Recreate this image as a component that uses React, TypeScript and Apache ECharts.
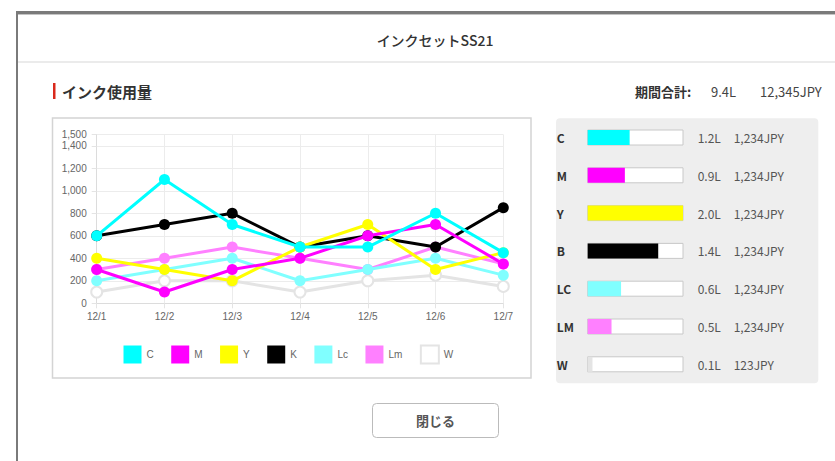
import React, { useEffect, useRef } from "react";
import * as echarts from "echarts";

const categories = ["12/1", "12/2", "12/3", "12/4", "12/5", "12/6", "12/7"];
const inkNames = ["C", "M", "Y", "K", "Lc", "Lm", "W"];
const inkColors = ["#00ffff", "#ff00ff", "#ffff00", "#000000", "#80ffff", "#ff80ff", "#ffffff"];
const cData = [600, 1100, 700, 500, 500, 800, 450];
const mData = [300, 100, 300, 400, 600, 700, 350];
const yData = [400, 300, 200, 500, 700, 300, 450];
const kData = [600, 700, 800, 500, 600, 500, 850];
const lcData = [200, 300, 400, 200, 300, 400, 250];
const lmData = [300, 400, 500, 400, 300, 500, 350];
const wData = [100, 200, 200, 100, 200, 250, 150];
const seriesValues = [cData, mData, yData, kData, lcData, lmData, wData];

const yMin = 0;
const yMax = 1500;
const yInterval = 200;

const rowLabels = ["C", "M", "Y", "B", "LC", "LM", "W"];
const rowVolumes = [1.2, 0.9, 2.0, 1.4, 0.6, 0.5, 0.1];
const rowPrices = [1234, 1234, 1234, 1234, 1234, 1234, 123];
const rowFillPercent = [44, 39, 100, 74, 35, 25, 5];
const rowColors = ["#00ffff", "#ff00ff", "#ffff00", "#000000", "#80ffff", "#ff80ff", "#e4e4e4"];

const totalVolume = 9.4;
const totalPrice = 12345;

const modalTitle = "インクセットSS21";
const sectionTitle = "インク使用量";
const totalLabel = "期間合計:";
const closeLabel = "閉じる";

const jp = "'Noto Sans CJK JP', 'Noto Sans', sans-serif";
const latin = "'Liberation Sans', Arial, sans-serif";

export default function App() {
  const ref = useRef<HTMLDivElement>(null);
  useEffect(() => {
    if (!ref.current) return;
    const chart = echarts.init(ref.current, null, { renderer: "svg" });
    const fmtPrice = (v: number) => v.toLocaleString("en-US") + "JPY";

    const lineSeries = inkNames.map((name, i) => {
      const isW = name === "W";
      return {
        name,
        type: "line",
        xAxisIndex: 0,
        yAxisIndex: 0,
        data: seriesValues[i],
        z: 20 - i,
        symbol: "circle",
        symbolSize: 11,
        showAllSymbol: true,
        lineStyle: { width: 3, color: isW ? "#e4e4e4" : inkColors[i] },
        itemStyle: isW
          ? { color: "#ffffff", borderColor: "#e4e4e4", borderWidth: 2 }
          : { color: inkColors[i], borderWidth: 0 },
      };
    });

    const option: any = {
      animation: false,
      backgroundColor: "#ffffff",
      graphic: [
        { type: "rect", shape: { x: 16, y: 11, width: 819, height: 3 }, style: { fill: "#7a7a7a" }, z: 0 },
        { type: "rect", shape: { x: 16, y: 14, width: 819, height: 1 }, style: { fill: "#c4c4c4" }, z: 0 },
        { type: "rect", shape: { x: 16, y: 11, width: 2, height: 450 }, style: { fill: "#7a7a7a" }, z: 0 },
        { type: "rect", shape: { x: 18, y: 61, width: 817, height: 2 }, style: { fill: "#ebebeb" }, z: 0 },
        {
          type: "text", x: 435, y: 40, z: 1,
          style: { text: modalTitle, font: `500 14px ${jp}`, fill: "#333", textAlign: "center", textVerticalAlign: "middle" },
        },
        { type: "rect", shape: { x: 53, y: 83, width: 2.5, height: 16 }, style: { fill: "#d9291c" }, z: 1 },
        {
          type: "text", x: 62, y: 91, z: 1,
          style: { text: sectionTitle, font: `bold 15px ${jp}`, fill: "#333", textAlign: "left", textVerticalAlign: "middle" },
        },
        {
          type: "text", x: 635, y: 91, z: 1,
          style: { text: totalLabel, font: `bold 13px ${jp}`, fill: "#333", textAlign: "left", textVerticalAlign: "middle" },
        },
        {
          type: "text", x: 711, y: 91, z: 1,
          style: { text: totalVolume.toFixed(1) + "L", font: `13px ${jp}`, fill: "#444", textAlign: "left", textVerticalAlign: "middle" },
        },
        {
          type: "text", x: 760, y: 91, z: 1,
          style: { text: fmtPrice(totalPrice), font: `13px ${jp}`, fill: "#444", textAlign: "left", textVerticalAlign: "middle" },
        },
        {
          type: "rect", shape: { x: 52.5, y: 118, width: 478.5, height: 260 }, z: 0,
          style: { fill: "#ffffff", stroke: "#d4d4d4", lineWidth: 1.5 },
        },
        {
          type: "rect", shape: { x: 556, y: 118.3, width: 262.3, height: 265, r: 4 }, z: 0,
          style: { fill: "#eeeeee" },
        },
        {
          type: "rect", shape: { x: 372.5, y: 403.5, width: 126, height: 34, r: 4 }, z: 0,
          style: { fill: "#ffffff", stroke: "#bbbbbb", lineWidth: 1 },
        },
        {
          type: "text", x: 435.5, y: 420.5, z: 1,
          style: { text: closeLabel, font: `bold 13px ${jp}`, fill: "#555", textAlign: "center", textVerticalAlign: "middle" },
        },
      ],
      legend: {
        data: inkNames,
        left: 123.5,
        top: 344.5,
        padding: 0,
        icon: "rect",
        itemWidth: 18,
        itemHeight: 18,
        itemGap: 17.5,
        textStyle: { fontSize: 10, color: "#666", fontFamily: latin },
        selectedMode: false,
      },
      grid: [
        { left: 96.7, top: 134.5, width: 406.6, height: 168.8, containLabel: false },
        { left: 587.7, top: 118.6, width: 95.3, height: 264.6, containLabel: false },
      ],
      xAxis: [
        {
          type: "category",
          gridIndex: 0,
          data: categories,
          boundaryGap: false,
          axisLine: { lineStyle: { color: "#dcdcdc", width: 1 } },
          axisTick: { show: true, length: 5, lineStyle: { color: "#e4e4e4" } },
          axisLabel: { color: "#666", fontSize: 10, fontFamily: latin, margin: 8 },
          splitLine: { show: true, lineStyle: { color: "#ececec", width: 1 } },
        },
        { type: "value", gridIndex: 1, min: 0, max: 100, show: false },
      ],
      yAxis: [
        {
          type: "value",
          gridIndex: 0,
          min: yMin,
          max: yMax,
          interval: yInterval,
          axisLine: { show: true, lineStyle: { color: "#dcdcdc", width: 1 } },
          axisTick: { show: true, length: 5, lineStyle: { color: "#e4e4e4" } },
          axisLabel: {
            color: "#666",
            fontSize: 10,
            fontFamily: latin,
            margin: 10,
            formatter: (v: number) => v.toLocaleString("en-US"),
          },
          splitLine: { show: true, lineStyle: { color: "#ececec", width: 1 } },
        },
        {
          type: "category",
          gridIndex: 1,
          data: rowLabels,
          inverse: true,
          position: "left",
          axisLine: { show: false },
          axisTick: { show: false },
          splitLine: { show: false },
          axisLabel: {
            margin: 31,
            align: "left",
            color: "#333",
            fontWeight: "bold",
            fontSize: 12,
            fontFamily: jp,
          },
        },
        {
          type: "category",
          gridIndex: 1,
          data: rowLabels,
          inverse: true,
          position: "right",
          axisLine: { show: false },
          axisTick: { show: false },
          splitLine: { show: false },
          axisLabel: {
            margin: 14.7,
            align: "left",
            formatter: (_v: string, idx: number) =>
              `{a|${rowVolumes[idx].toFixed(1)}L}{b|${fmtPrice(rowPrices[idx])}}`,
            rich: {
              a: { width: 36, color: "#555", fontSize: 12, fontFamily: jp },
              b: { color: "#555", fontSize: 12, fontFamily: jp },
            },
          },
        },
      ],
      series: [
        ...lineSeries,
        {
          name: "usage",
          type: "bar",
          xAxisIndex: 1,
          yAxisIndex: 1,
          barWidth: 15,
          showBackground: true,
          backgroundStyle: { color: "#ffffff", borderColor: "#c8c8c8", borderWidth: 1 },
          data: rowFillPercent.map((v, i) => ({ value: v, itemStyle: { color: rowColors[i] } })),
          z: 3,
        },
      ],
    };
    chart.setOption(option);
    return () => chart.dispose();
  }, []);
  return (
    <div
      ref={ref}
      style={{ position: "absolute", left: 0, top: 0, width: 835, height: 461 }}
    />
  );
}
